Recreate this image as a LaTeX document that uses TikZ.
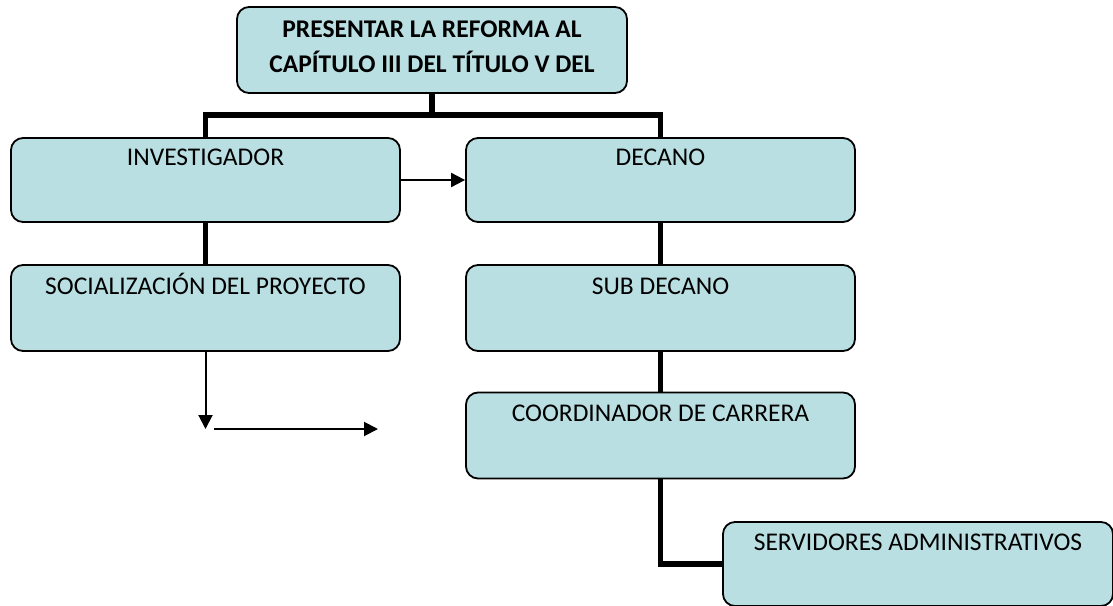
\documentclass[tikz,border=0pt]{standalone}
\usepackage{fontspec}
\setmainfont{Carlito}
\usetikzlibrary{arrows.meta,backgrounds}
\definecolor{boxfill}{RGB}{185,223,226}
\begin{document}
\begin{tikzpicture}[x=1pt,y=-1pt,
  box/.style={draw=black, line width=1.8pt, fill=boxfill, rounded corners=12pt,
    minimum width=389pt, minimum height=84pt, inner sep=0pt},
  boxtext/.style={font=\fontsize{25.5}{30}\selectfont, anchor=base, inner sep=0pt},
  trunk/.style={line width=5.5pt, line join=miter},
  thinarrow/.style={line width=2pt, -{Triangle[length=14pt,width=14pt]}}]
\useasboundingbox (0,0) rectangle (1113,605);

\node[box, minimum width=390pt, minimum height=86pt] (top) at (432,50) {};
\node[font=\bfseries\fontsize{25.5}{35}\selectfont, align=center, anchor=base, inner sep=0pt] (toptext) at (432,72)
  {PRESENTAR LA REFORMA AL\\CAPÍTULO III DEL TÍTULO V DEL};

\node[box] (inv) at (205.5,180) {};
\node[boxtext] (invt) at (205.5,165) {INVESTIGADOR};
\node[box] (dec) at (660.5,180) {};
\node[boxtext] (dect) at (660.5,165) {DECANO};

\node[box, minimum height=86pt] (soc) at (205.5,308) {};
\node[boxtext] (soct) at (205.5,294) {SOCIALIZACIÓN DEL PROYECTO};
\node[box, minimum height=86pt] (sub) at (660.5,308) {};
\node[boxtext] (subt) at (660.5,294) {SUB DECANO};

\node[box, minimum height=86pt] (coord) at (660.5,435.5) {};
\node[boxtext] (coordt) at (660.5,421) {COORDINADOR DE CARRERA};

\node[box, minimum width=390pt, minimum height=84pt] (serv) at (918,564) {};
\node[boxtext] (servt) at (918,550) {SERVIDORES ADMINISTRATIVOS};

\coordinate (j) at (432,115);
\coordinate (a1) at (205.5,429);
\coordinate (a2) at (214,429);
\coordinate (a3) at (378,429);

\begin{scope}[on background layer]
  \draw[trunk] (top.south) -- (j);
  \draw[trunk] (inv.north) |- (j) -| (dec.north);
  \draw[trunk] (inv.south) -- (soc.north);
  \draw[trunk] (dec.south) -- (sub.north);
  \draw[trunk] (sub.south) -- (coord.north);
  \draw[trunk] (coord.south) |- (serv.west);
\end{scope}

\draw[thinarrow] (inv.east) -- (dec.west);
\draw[thinarrow] (soc.south) -- (a1);
\draw[thinarrow] (a2) -- (a3);
\end{tikzpicture}
\end{document}
